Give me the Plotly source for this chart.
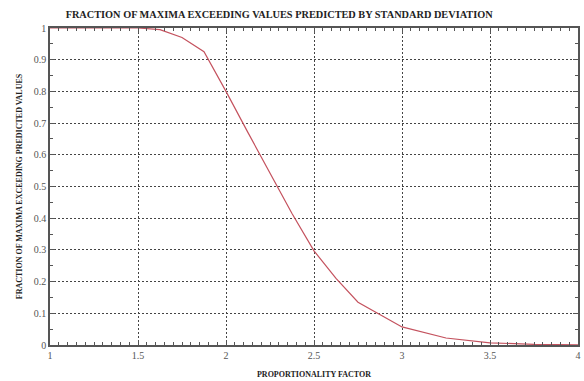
import plotly.graph_objects as go

# Proportionality factor k and fraction of maxima exceeding k * standard deviation
factor = [1.0, 1.25, 1.5, 1.625, 1.75, 1.875, 2.0, 2.125, 2.25, 2.375, 2.5,
          2.625, 2.75, 3.0, 3.25, 3.5, 3.75, 4.0]
fraction = [1.0, 1.0, 1.0, 0.995, 0.97, 0.925, 0.80, 0.67, 0.54, 0.415, 0.297,
            0.21, 0.135, 0.057, 0.022, 0.007, 0.002, 0.0005]

x_ticks = [1, 1.5, 2, 2.5, 3, 3.5, 4]
x_tick_text = ["1", "1.5", "2", "2.5", "3", "3.5", "4"]
y_ticks = [0, 0.1, 0.2, 0.3, 0.4, 0.5, 0.6, 0.7, 0.8, 0.9, 1]
y_tick_text = ["0", "0.1", "0.2", "0.3", "0.4", "0.5", "0.6", "0.7", "0.8", "0.9", "1"]

serif = "Liberation Serif, Times New Roman, serif"

fig = go.Figure()
fig.add_trace(go.Scatter(
    x=factor, y=fraction, mode="lines",
    line=dict(color="#c4525e", width=1.2),
    showlegend=False, hoverinfo="x+y",
))

axis_common = dict(
    showline=True, linecolor="#555555", linewidth=1.5, mirror="ticks",
    ticks="inside", ticklen=5, tickcolor="#555555",
    showgrid=True, gridcolor="#444444", griddash="2px,2px", gridwidth=1,
    zeroline=False,
    tickfont=dict(family=serif, size=10, color="#555555"),
)

fig.update_xaxes(
    range=[1, 4], tickvals=x_ticks, ticktext=x_tick_text,
    minor=dict(dtick=0.05, ticks="inside", ticklen=3, tickcolor="#555555", showgrid=False),
    title=dict(text="<b>PROPORTIONALITY FACTOR</b>", font=dict(family=serif, size=8, color="#222222"),
               standoff=12),
    **axis_common,
)
fig.update_yaxes(
    range=[0, 1], tickvals=y_ticks, ticktext=y_tick_text,
    minor=dict(dtick=0.05, ticks="inside", ticklen=3, tickcolor="#555555", showgrid=False),
    title=dict(text="<b>FRACTION OF MAXIMA EXCEEDING PREDICTED VALUES</b>",
               font=dict(family=serif, size=8, color="#222222"), standoff=10),
    **axis_common,
)

fig.update_layout(
    width=584, height=381,
    margin=dict(l=50, r=3, t=28, b=35),
    paper_bgcolor="white", plot_bgcolor="white",
    title=dict(
        text="<b>FRACTION OF MAXIMA EXCEEDING VALUES PREDICTED BY STANDARD DEVIATION</b>",
        font=dict(family=serif, size=10.3, color="#222222"),
        x=0.478, xref="container", xanchor="center",
        y=0.963, yref="container", yanchor="middle",
    ),
)

fig.write_html("out.html")
